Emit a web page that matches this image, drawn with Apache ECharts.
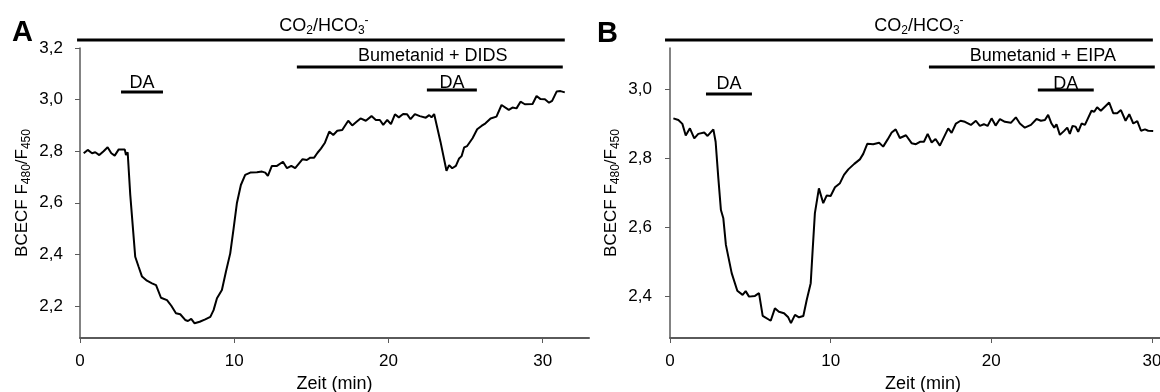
<!DOCTYPE html>
<html><head><meta charset="utf-8">
<script src="https://cdn.jsdelivr.net/npm/echarts@6/dist/echarts.min.js"></script>
<style>html,body{margin:0;padding:0;background:#fff}#c{width:1160px;height:392px}</style>
</head><body><div id="c"></div>
<script>
// ---- Panel A data (time in min, BCECF ratio) ----
const timeA = [0.24,0.50,0.78,0.99,1.25,1.53,1.79,2.03,2.25,2.51,2.90,2.98,3.09,3.26,3.58,3.80,4.02,4.34,4.67,4.93,5.25,5.64,5.92,6.22,6.50,6.82,7.00,7.21,7.43,7.76,8.12,8.45,8.66,8.88,9.20,9.46,9.74,9.96,10.17,10.43,10.71,11.04,11.47,11.80,12.01,12.18,12.44,12.77,13.16,13.42,13.70,13.95,14.43,14.71,14.93,15.18,15.40,15.62,15.88,16.16,16.42,16.68,17.00,17.39,17.65,17.93,18.19,18.53,18.90,19.18,19.44,19.66,19.92,20.16,20.42,20.67,20.95,21.21,21.43,21.71,22.03,22.42,22.64,22.79,22.96,23.37,23.76,23.93,24.13,24.37,24.58,24.74,24.91,25.10,25.45,25.75,26.03,26.29,26.62,27.00,27.33,27.80,28.04,28.30,28.56,28.84,29.34,29.60,29.86,30.14,30.41,30.61,30.90,31.15,31.43];
const ratioA = [2.792,2.805,2.792,2.796,2.785,2.800,2.815,2.792,2.783,2.807,2.807,2.785,2.796,2.630,2.391,2.352,2.314,2.298,2.288,2.281,2.232,2.223,2.201,2.172,2.168,2.146,2.142,2.150,2.133,2.139,2.148,2.158,2.184,2.230,2.262,2.333,2.404,2.501,2.598,2.669,2.708,2.717,2.718,2.721,2.717,2.704,2.743,2.743,2.759,2.734,2.743,2.734,2.769,2.766,2.775,2.775,2.794,2.810,2.833,2.876,2.863,2.879,2.882,2.918,2.900,2.914,2.927,2.918,2.936,2.921,2.921,2.902,2.921,2.905,2.943,2.931,2.944,2.943,2.924,2.944,2.936,2.930,2.940,2.931,2.944,2.837,2.724,2.746,2.734,2.743,2.772,2.781,2.815,2.820,2.850,2.885,2.898,2.908,2.927,2.934,2.979,2.960,2.969,2.966,2.992,2.982,2.983,3.014,3.002,3.001,2.988,2.995,3.031,3.033,3.028];

// ---- Panel B data ----
const timeB = [0.21,0.52,0.77,0.98,1.24,1.51,1.76,2.13,2.34,2.70,2.84,3.01,3.17,3.32,3.48,3.63,3.84,4.19,4.52,4.71,4.92,5.29,5.54,5.77,6.27,6.53,6.78,7.10,7.36,7.53,7.78,8.03,8.30,8.51,8.76,8.88,9.02,9.27,9.54,9.75,10.00,10.27,10.58,10.83,11.10,11.47,11.82,12.03,12.28,12.65,13.02,13.27,13.55,13.80,14.05,14.31,14.69,15.04,15.31,15.56,15.81,16.04,16.29,16.53,16.80,17.32,17.53,17.80,18.09,18.36,18.73,19.04,19.29,19.54,19.77,20.02,20.27,20.54,20.85,21.22,21.53,21.78,22.09,22.47,22.82,23.09,23.34,23.54,23.75,23.92,24.06,24.27,24.52,24.73,24.89,25.06,25.25,25.41,25.62,25.83,26.24,26.41,26.59,26.82,27.34,27.59,27.84,28.07,28.36,28.59,28.84,29.09,29.32,29.57,29.77,30.08];
const ratioB = [2.915,2.910,2.899,2.865,2.886,2.857,2.870,2.874,2.864,2.883,2.847,2.741,2.649,2.625,2.548,2.514,2.466,2.415,2.403,2.414,2.398,2.400,2.408,2.342,2.328,2.364,2.354,2.350,2.338,2.321,2.345,2.338,2.342,2.388,2.437,2.533,2.640,2.712,2.669,2.691,2.690,2.715,2.727,2.751,2.767,2.783,2.796,2.812,2.841,2.840,2.844,2.833,2.854,2.874,2.883,2.858,2.866,2.843,2.840,2.847,2.847,2.870,2.845,2.855,2.836,2.886,2.873,2.900,2.908,2.905,2.896,2.908,2.893,2.898,2.893,2.915,2.894,2.913,2.905,2.902,2.918,2.900,2.888,2.896,2.913,2.908,2.910,2.925,2.900,2.888,2.898,2.867,2.878,2.888,2.870,2.893,2.891,2.876,2.900,2.896,2.937,2.934,2.947,2.937,2.961,2.930,2.930,2.939,2.908,2.927,2.900,2.907,2.879,2.883,2.879,2.878];

// ---- tick labels ----
const xTicks = [0, 10, 20, 30];
const yTicksA = [2.2, 2.4, 2.6, 2.8, 3.0, 3.2];
const yTicksB = [2.4, 2.6, 2.8, 3.0];

// ---- treatment periods (minutes) ----
const labelsA = ['CO{sub|2}/HCO{sub|3}{sup|-}', 'Bumetanid + DIDS', 'DA', 'DA'];
const startA = [-0.19, 14.06, 2.66, 22.49];
const endA   = [31.43, 31.30, 5.38, 25.73];
const labelsB = ['CO{sub|2}/HCO{sub|3}{sup|-}', 'Bumetanid + EIPA', 'DA', 'DA'];
const startB = [-0.31, 16.12, 2.24, 22.90];
const endB   = [30.06, 30.18, 5.10, 26.38];

// ---- layout (pixels) ----
const barYA = [40, 67, 92, 90], textYA = [26, 56, 83, 83], textDxA = [3, 3, 0, 0];
const barYB = [40, 67, 94, 90], textYB = [26, 56, 84, 84], textDxB = [10, 1, 0, 0];

const FONT = "'Liberation Sans', Arial, sans-serif";
const AX = '#5a5a5a';
const fmt = v => v.toFixed(1).replace('.', ',');
function subRich(sz) {
  return {
    sub: {fontSize: sz, fontFamily: FONT, color: '#000', verticalAlign: 'bottom', lineHeight: 6},
    sup: {fontSize: sz, fontFamily: FONT, color: '#000', verticalAlign: 'top', lineHeight: 8}
  };
}

function xAxis(gi, max) {
  return {
    type: 'value', gridIndex: gi, min: 0, max: max,
    name: 'Zeit (min)', nameLocation: 'middle', nameGap: 37,
    nameTextStyle: {fontSize: 18, fontFamily: FONT, color: '#000'},
    axisLine: {lineStyle: {color: AX, width: 2}},
    axisTick: {length: 5, lineStyle: {color: AX, width: 1}, customValues: xTicks},
    axisLabel: {fontSize: 17, fontFamily: FONT, color: '#000', margin: 15, customValues: xTicks},
    splitLine: {show: false}
  };
}
function yAxis(gi, min, max, ticks, off) {
  return {
    type: 'value', gridIndex: gi, min: min, max: max, offset: off,
    name: 'BCECF F{sub|480}/F{sub|450}', nameLocation: 'middle', nameGap: 44, nameRotate: 90,
    nameTextStyle: {fontSize: 17, fontFamily: FONT, color: '#000', lineHeight: 22, rich: subRich(12)},
    axisLine: {show: true, lineStyle: {color: AX, width: 1.5}},
    axisTick: {show: true, length: 5, lineStyle: {color: AX, width: 1}, customValues: ticks},
    axisLabel: {fontSize: 17, fontFamily: FONT, color: '#000', margin: 14, formatter: fmt, customValues: ticks},
    splitLine: {show: false}
  };
}

const chart = echarts.init(document.getElementById('c'), null, {renderer: 'canvas'});
chart.setOption({
  animation: false,
  backgroundColor: '#fff',
  grid: [
    {left: 80, top: 48, width: 509, height: 290, containLabel: false, outerBoundsMode: 'none'},
    {left: 670, top: 48, width: 506, height: 290, containLabel: false, outerBoundsMode: 'none'}
  ],
  xAxis: [xAxis(0, 33), xAxis(1, 31.5)],
  yAxis: [yAxis(0, 2.076, 3.2, yTicksA, 3), yAxis(1, 2.278, 3.119, yTicksB, 4)],
  series: [
    {type: 'line', xAxisIndex: 0, yAxisIndex: 0, showSymbol: false, symbol: 'none',
     lineStyle: {color: '#000', width: 2}, data: timeA.map((t, i) => [t, ratioA[i]])},
    {type: 'line', xAxisIndex: 1, yAxisIndex: 1, showSymbol: false, symbol: 'none',
     lineStyle: {color: '#000', width: 2}, data: timeB.map((t, i) => [t, ratioB[i]])}
  ]
});

function annot(gi, labels, starts, ends, barY, textY, textDx) {
  const out = [];
  labels.forEach((lab, i) => {
    const x1 = chart.convertToPixel({gridIndex: gi}, [starts[i], 2.5])[0];
    const x2 = chart.convertToPixel({gridIndex: gi}, [ends[i], 2.5])[0];
    out.push({type: 'line', silent: true, shape: {x1: x1, y1: barY[i], x2: x2, y2: barY[i]},
              style: {stroke: '#000', lineWidth: 3}});
    out.push({type: 'text', silent: true, x: (x1 + x2) / 2 + textDx[i], y: textY[i],
              style: {text: lab, fill: '#000', fontSize: 18, fontFamily: FONT, lineHeight: 22,
                      align: 'center', verticalAlign: 'middle', rich: subRich(12)}});
  });
  return out;
}
const g = [].concat(
  annot(0, labelsA, startA, endA, barYA, textYA, textDxA),
  annot(1, labelsB, startB, endB, barYB, textYB, textDxB),
  [{type: 'text', x: 12, y: 33, style: {text: 'A', fill: '#000', fontSize: 29, fontWeight: 'bold', fontFamily: FONT, verticalAlign: 'middle'}},
   {type: 'text', x: 597, y: 34, style: {text: 'B', fill: '#000', fontSize: 29, fontWeight: 'bold', fontFamily: FONT, verticalAlign: 'middle'}}]
);
chart.setOption({graphic: g});
</script></body></html>
